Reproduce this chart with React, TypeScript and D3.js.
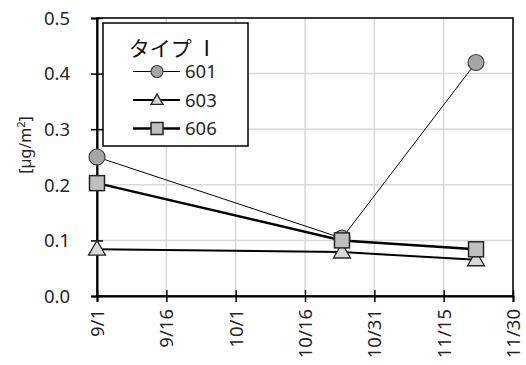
import * as d3 from "d3";
import { useEffect, useRef } from "react";

// sampling dates (month/day) and values [µg/m²]
const sampleDates = ["2020-09-01", "2020-10-24", "2020-11-22"];
const series601 = [0.25, 0.104, 0.42];
const series603 = [0.084, 0.079, 0.065];
const series606 = [0.203, 0.1, 0.084];
const xTicks = ["2020-09-01", "2020-09-16", "2020-10-01", "2020-10-16", "2020-10-31", "2020-11-15", "2020-11-30"];
const yTicks = [0, 0.1, 0.2, 0.3, 0.4, 0.5];
const seriesNames = ["601", "603", "606"];

const W = 526;
const H = 365;
const FONT = "'Noto Sans', 'Noto Sans CJK JP', sans-serif";
const CJK = "'Noto Sans CJK JP', sans-serif";

function parse(s: string): Date {
  const [y, m, d] = s.split("-").map(Number);
  return new Date(y, m - 1, d);
}

export default function App() {
  const ref = useRef<SVGSVGElement | null>(null);

  useEffect(() => {
    if (!ref.current) return;
    const margin = { top: 18, right: 13, bottom: 69, left: 97 };
    const innerW = W - margin.left - margin.right;
    const innerH = H - margin.top - margin.bottom;

    const x = d3.scaleTime().domain([parse(xTicks[0]), parse(xTicks[xTicks.length - 1])]).range([0, innerW]);
    const y = d3.scaleLinear().domain([0, 0.5]).range([innerH, 0]);

    const svg = d3.select(ref.current);
    svg.selectAll("*").remove();
    const g = svg.append("g").attr("transform", `translate(${margin.left},${margin.top})`);

    // grid
    g.append("g")
      .selectAll("line")
      .data(xTicks.map(parse))
      .join("line")
      .attr("x1", (d) => x(d))
      .attr("x2", (d) => x(d))
      .attr("y1", 0)
      .attr("y2", innerH)
      .attr("stroke", "#d9d9d9")
      .attr("stroke-width", 1.5);
    g.append("g")
      .selectAll("line")
      .data(yTicks)
      .join("line")
      .attr("x1", 0)
      .attr("x2", innerW)
      .attr("y1", (d) => y(d))
      .attr("y2", (d) => y(d))
      .attr("stroke", "#d9d9d9")
      .attr("stroke-width", 1.5);

    // frame
    g.append("rect")
      .attr("width", innerW)
      .attr("height", innerH)
      .attr("fill", "none")
      .attr("stroke", "#000")
      .attr("stroke-width", 1.5);

    // axes
    const yAxis = g
      .append("g")
      .call(d3.axisLeft(y).tickValues(yTicks).tickSize(6).tickFormat((v) => d3.format(".1f")(v as number)));
    yAxis.selectAll(".tick line").attr("x2", 6).attr("x1", -6).attr("stroke-width", 1.5);
    yAxis.select(".domain").attr("stroke-width", 2);
    yAxis
      .selectAll("text")
      .attr("x", -27)
      .attr("dy", "0.34em")
      .style("font-family", FONT)
      .style("font-size", "18.5px")
      .style("fill", "#262626");

    const xAxis = g
      .append("g")
      .attr("transform", `translate(0,${innerH})`)
      .call(d3.axisBottom(x).tickValues(xTicks.map(parse)).tickSize(6).tickFormat((d) => d3.timeFormat("%-m/%-d")(d as Date)));
    xAxis.selectAll(".tick line").attr("y1", -6).attr("y2", 6).attr("stroke-width", 1.5);
    xAxis.select(".domain").attr("stroke-width", 2);
    xAxis
      .selectAll("text")
      .attr("transform", "rotate(-90)")
      .attr("x", -13)
      .attr("y", 0)
      .attr("dy", "0.35em")
      .style("text-anchor", "end")
      .style("font-family", FONT)
      .style("font-size", "18.5px")
      .style("fill", "#262626");
    g.selectAll(".domain, .tick line").attr("stroke", "#000");

    // y label
    const yl = svg
      .append("text")
      .attr("transform", `translate(31,145) rotate(-90)`)
      .attr("text-anchor", "middle")
      .style("font-family", FONT)
      .style("font-size", "16px")
      .style("fill", "#262626");
    yl.append("tspan").text("[µg/m");
    yl.append("tspan").attr("dy", "-6").style("font-size", "11px").text("2");
    yl.append("tspan").attr("dy", "6").text("]");

    const dates = sampleDates.map(parse);
    const all = [
      { values: series601, width: 1, marker: "circle", fill: "#a6a6a6" },
      { values: series603, width: 2, marker: "triangle", fill: "#d9d9d9" },
      { values: series606, width: 2.5, marker: "square", fill: "#bfbfbf" },
    ];

    const line = d3
      .line<number>()
      .x((_, i) => x(dates[i]))
      .y((d) => y(d));

    const drawMarker = (sel: d3.Selection<SVGGElement, unknown, null, undefined>, kind: string, fill: string, s: number) => {
      if (kind === "circle") {
        sel.append("circle").attr("r", s).attr("fill", fill).attr("stroke", "#404040").attr("stroke-width", 1.2);
      } else if (kind === "square") {
        sel
          .append("rect")
          .attr("x", -s)
          .attr("y", -s)
          .attr("width", s * 2)
          .attr("height", s * 2)
          .attr("fill", fill)
          .attr("stroke", "#262626")
          .attr("stroke-width", 1.5);
      } else {
        // s = half side length
        const side = s * 2;
        sel
          .append("path")
          .attr("d", d3.symbol(d3.symbolTriangle, (Math.sqrt(3) / 4) * side * side)())
          .attr("transform", "translate(0,1)")
          .attr("fill", fill)
          .attr("stroke", "#262626")
          .attr("stroke-width", 1.3);
      }
    };

    all.forEach((s) => {
      g.append("path")
        .datum(s.values)
        .attr("fill", "none")
        .attr("stroke", "#000")
        .attr("stroke-width", s.width)
        .attr("d", line);
    });
    all.forEach((s) => {
      s.values.forEach((v, i) => {
        const m = g.append("g").attr("transform", `translate(${x(dates[i])},${y(v)})`);
        const size = s.marker === "square" ? 7.5 : s.marker === "triangle" ? 8.5 : 8;
        drawMarker(m, s.marker, s.fill, size);
      });
    });

    // legend
    const leg = svg.append("g").attr("transform", "translate(103,23)");
    leg.append("rect")
      .attr("width", 145)
      .attr("height", 123)
      .attr("fill", "#fff")
      .attr("stroke", "#000")
      .attr("stroke-width", 1.5);
    leg.append("text")
      .attr("x", 70)
      .attr("y", 33)
      .attr("text-anchor", "middle")
      .style("font-family", CJK)
      .style("font-size", "21px")
      .style("fill", "#111")
      .text("タイプ Ⅰ");
    all.forEach((s, i) => {
      const cy = 48.5 + i * 28.5;
      const row = leg.append("g").attr("transform", `translate(0,${cy})`);
      row.append("line").attr("x1", 30).attr("x2", 77).attr("stroke", "#000").attr("stroke-width", s.width);
      const m = row.append("g").attr("transform", "translate(54,0)");
      drawMarker(m, s.marker, s.fill, 6);
      row.append("text")
        .attr("x", 82)
        .attr("dy", "0.36em")
        .style("font-family", FONT)
        .style("font-size", "18.5px")
        .style("fill", "#262626")
        .text(seriesNames[i]);
    });
  }, []);

  return (
    <svg
      ref={ref}
      width={W}
      height={H}
      style={{ position: "absolute", left: 0, top: 0, background: "#fff" }}
      role="img"
      aria-label="タイプⅠ 601 603 606"
    />
  );
}
